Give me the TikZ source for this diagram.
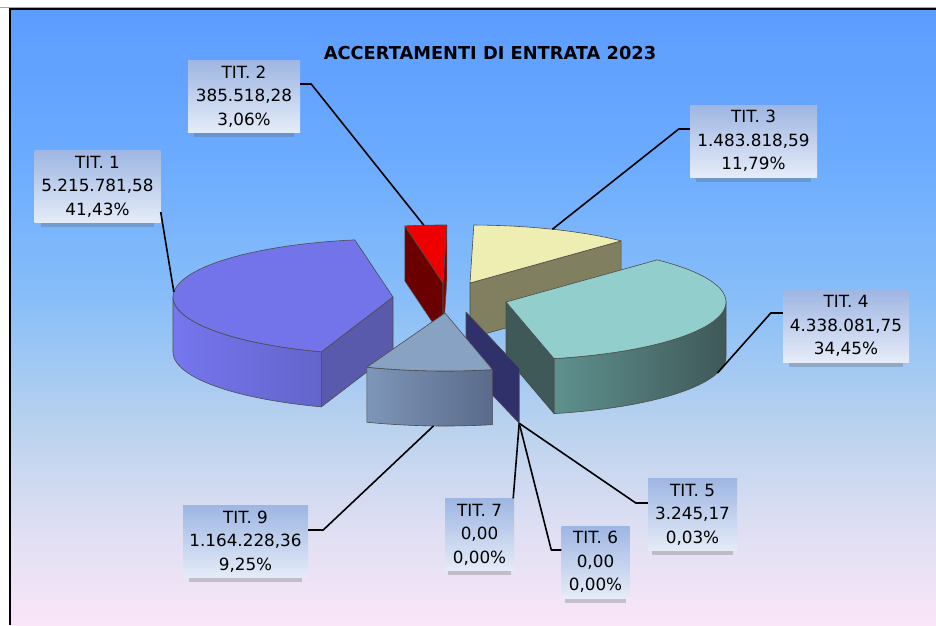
\documentclass[tikz,border=0pt]{standalone}
\usepackage{fontspec}
\setmainfont{DejaVu Sans}
\usetikzlibrary{shadows}

\definecolor{bgtop}{HTML}{5C9CFF}
\definecolor{bghigh}{HTML}{6AAAFF}
\definecolor{bgmid}{HTML}{88BEF8}
\definecolor{bglight}{HTML}{BAD2EE}
\definecolor{bglav}{HTML}{DCDEF2}
\definecolor{bgbot}{HTML}{FAE6F8}
\definecolor{boxtop}{HTML}{9EB6E2}
\definecolor{boxbot}{HTML}{E6ECF8}
\definecolor{purtop}{HTML}{7474EA}
\definecolor{purl}{HTML}{7676EE}
\definecolor{purr}{HTML}{6464CC}
\definecolor{purside}{HTML}{5A5AAC}
\definecolor{redtop}{HTML}{EE0000}
\definecolor{redside}{HTML}{6A0000}
\definecolor{rededge}{HTML}{8C0000}
\definecolor{yeltop}{HTML}{EEEEB2}
\definecolor{yelside}{HTML}{808060}
\definecolor{teatop}{HTML}{92CECC}
\definecolor{teal2}{HTML}{5E918E}
\definecolor{tear}{HTML}{3F5858}
\definecolor{navyside}{HTML}{30306A}
\definecolor{gretop}{HTML}{88A2C4}
\definecolor{grel}{HTML}{7E96B8}
\definecolor{grer}{HTML}{5A6A8A}

\pgfdeclareverticalshading{bgshade}{100bp}{color(0bp)=(bgbot); color(25bp)=(bgbot); color(33.5bp)=(bglav); color(41bp)=(bglight); color(51.5bp)=(bgmid); color(63.5bp)=(bghigh); color(75bp)=(bgtop); color(100bp)=(bgtop)}

\tikzset{
  face/.style={draw=black!70, line width=0.6pt, line join=round},
  lbl/.style={top color=boxtop, bottom color=boxbot, align=center, inner sep=0pt,
     minimum height=72pt, font=\fontsize{16.8}{23.5}\selectfont,
     drop shadow={shadow xshift=0pt, shadow yshift=-9pt, shadow scale=0.9, opacity=0.3, fill=black!60}},
  leader/.style={black, line width=1.6pt, line join=round},
}

\begin{document}
\begin{tikzpicture}[x=1pt,y=-1pt]
 \useasboundingbox (0,0) rectangle (936,625);

	%frame
 \fill[white] (0,0) rectangle (936,625);
 \draw[black!35,line width=1pt] (0,7.5) -- (936,7.5);
 \shade[shading=bgshade] (10,9) rectangle (936,625);
 \draw[black,line width=1.2pt] (10,625) -- (10,9) -- (936,9);

 \node[font=\bfseries\fontsize{17.8}{20}\selectfont] (title) at (490,53) {ACCERTAMENTI DI ENTRATA 2023};

 \def\rx{220} \def\ry{58} \def\dz{55}

	%tit 2
 \def\cx{443} \def\cy{283}
 \path[face,fill=redside] (\cx,\cy) -- ({\cx+\rx*cos(100)},{\cy-\ry*sin(100)}) -- ++(0,\dz) -- (\cx,\cy+\dz) -- cycle;
 \path[face,fill=rededge] (\cx,\cy) -- ({\cx+\rx*cos(89)},{\cy-\ry*sin(89)}) -- ++(0,\dz) -- (\cx,\cy+\dz) -- cycle;
 \path[face,fill=redtop] (\cx,\cy) -- plot[domain=89:100,samples=8] ({\cx+\rx*cos(\x)},{\cy-\ry*sin(\x)}) -- cycle;
 \coordinate (p2) at ({\cx+\rx*cos(95)},{\cy-\ry*sin(95)});

	%tit 3
 \def\cx{470} \def\cy{283}
 \path[face,fill=yelside] (\cx,\cy) -- ({\cx+\rx*cos(46.6)},{\cy-\ry*sin(46.6)}) -- ++(0,\dz) -- (\cx,\cy+\dz) -- cycle;
 \path[face,fill=yeltop] (\cx,\cy) -- plot[domain=46.6:89,samples=20] ({\cx+\rx*cos(\x)},{\cy-\ry*sin(\x)}) -- cycle;
 \coordinate (p3) at ({\cx+\rx*cos(68)},{\cy-\ry*sin(68)});

	%tit 4
 \def\cx{506} \def\cy{302}
 \path[face,left color=teal2,middle color=tear,right color=tear] plot[domain=-77.4:0,samples=30] ({\cx+\rx*cos(\x)},{\cy-\ry*sin(\x)})
      -- plot[domain=0:-77.4,samples=30] ({\cx+\rx*cos(\x)},{\cy+\dz-\ry*sin(\x)}) -- cycle;
 \path[face,fill=tear] (\cx,\cy) -- ({\cx+\rx*cos(-77.4)},{\cy-\ry*sin(-77.4)}) -- ++(0,\dz) -- (\cx,\cy+\dz) -- cycle;
 \path[face,fill=teatop] (\cx,\cy) -- plot[domain=-77.4:46.6,samples=50] ({\cx+\rx*cos(\x)},{\cy-\ry*sin(\x)}) -- cycle;
 \coordinate (p4) at ({\cx+\rx*cos(-16)},{\cy+\dz-\ry*sin(-16)});

	%tit 1
 \def\cx{393} \def\cy{297}
 \path[face,left color=purl,right color=purr] plot[domain=180:251,samples=30] ({\cx+\rx*cos(\x)},{\cy-\ry*sin(\x)})
      -- plot[domain=251:180,samples=30] ({\cx+\rx*cos(\x)},{\cy+\dz-\ry*sin(\x)}) -- cycle;
 \path[face,fill=purside] (\cx,\cy) -- ({\cx+\rx*cos(251)},{\cy-\ry*sin(251)}) -- ++(0,\dz) -- (\cx,\cy+\dz) -- cycle;
 \path[face,fill=purtop] (\cx,\cy) -- plot[domain=100:251,samples=50] ({\cx+\rx*cos(\x)},{\cy-\ry*sin(\x)}) -- cycle;
 \coordinate (p1) at ({\cx+\rx*cos(175)},{\cy-\ry*sin(175)});

	%tit 5 6 7
 \def\cx{466} \def\cy{312}
 \path[face,fill=navyside] (\cx,\cy) -- ({\cx+\rx*cos(-76)},{\cy-\ry*sin(-76)}) -- ++(0,\dz) -- (\cx,\cy+\dz) -- cycle;
 \coordinate (p5) at ({\cx+\rx*cos(-76)},{\cy+\dz-\ry*sin(-76)});

	%tit 9
 \def\cx{445} \def\cy{313}
 \path[face,left color=grel,right color=grer] plot[domain=-110.8:-77.5,samples=20] ({\cx+\rx*cos(\x)},{\cy-\ry*sin(\x)})
      -- plot[domain=-77.5:-110.8,samples=20] ({\cx+\rx*cos(\x)},{\cy+\dz-\ry*sin(\x)}) -- cycle;
 \path[face,fill=gretop] (\cx,\cy) -- plot[domain=-110.8:-77.5,samples=20] ({\cx+\rx*cos(\x)},{\cy-\ry*sin(\x)}) -- cycle;
 \coordinate (p9) at ({\cx+\rx*cos(-93)},{\cy+\dz-\ry*sin(-93)});

	%labels
    \foreach \name/\px/\py/\w/\txt in {t1/97.5/186.5/126/{TIT. 1\\5.215.781,58\\41,43\%},
        t2/244/96.5/112/{TIT. 2\\385.518,28\\3,06\%}, t3/753.5/141/127/{TIT. 3\\1.483.818,59\\11,79\%},
        t4/846/326/126/{TIT. 4\\4.338.081,75\\34,45\%}, t5/692.5/514.5/89/{TIT. 5\\3.245,17\\0,03\%},
        t6/595.5/562/68/{TIT. 6\\0,00\\0,00\%}, t7/479.5/534.5/69/{TIT. 7\\0,00\\0,00\%},
        t9/245.5/541.5/125/{TIT. 9\\1.164.228,36\\9,25\%}}{
         \node[lbl,minimum width=\w pt] (\name) at (\px,\py) {\txt};
    }

 \draw[leader] ([yshift=-25.5pt]t1.east) -- (p1);
 \draw[leader] ([yshift=12.5pt]t2.east) -- ++(11,0) -- (p2);
 \draw[leader] ([yshift=12pt]t3.west) -- ++(-11,0) -- (p3);
 \draw[leader] ([yshift=13pt]t4.west) -- ++(-12,0) -- (p4);
 \draw[leader] ([yshift=11.5pt]t5.west) -- ++(-12,0) -- (p5);
 \draw[leader] ([yshift=12pt]t6.west) -- ++(-10,0) -- (p5);
 \draw[leader] ([xshift=-1pt]t7.north east) -- (p5);
 \draw[leader] ([yshift=11.5pt]t9.east) -- ++(15,0) -- (p9);

\end{tikzpicture}
\end{document}
